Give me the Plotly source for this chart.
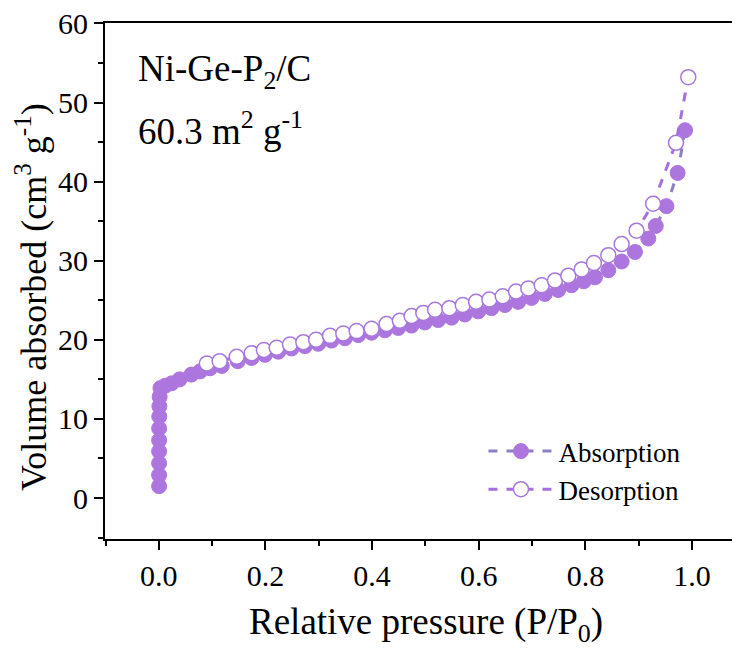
import plotly.graph_objects as go

# Absorption (filled) branch
abs_p = [0.0005, 0.0005, 0.0005, 0.0005, 0.0005, 0.0005, 0.0008, 0.001, 0.0015, 0.003,
         0.012, 0.024, 0.039, 0.061, 0.077, 0.096, 0.118, 0.148, 0.174, 0.199,
         0.224, 0.249, 0.274, 0.299, 0.324, 0.349, 0.374, 0.399, 0.424, 0.449,
         0.474, 0.499, 0.524, 0.549, 0.574, 0.599, 0.624, 0.649, 0.674, 0.699,
         0.724, 0.749, 0.774, 0.797, 0.818, 0.843, 0.868, 0.893, 0.918, 0.932,
         0.952, 0.973, 0.987]
abs_v = [1.5, 2.9, 4.4, 5.9, 7.3, 8.8, 10.3, 11.6, 12.8, 13.9,
         14.2, 14.5, 15.0, 15.6, 16.0, 16.4, 16.7, 17.3, 17.7, 18.1,
         18.5, 18.9, 19.2, 19.5, 19.9, 20.2, 20.6, 20.9, 21.2, 21.5,
         21.8, 22.2, 22.5, 22.8, 23.2, 23.6, 24.0, 24.4, 24.8, 25.3,
         25.8, 26.3, 26.9, 27.4, 27.9, 28.8, 29.9, 31.1, 32.8, 34.4,
         36.9, 41.1, 46.5]

# Desorption (open) branch
des_p = [0.090, 0.114, 0.146, 0.174, 0.197, 0.221, 0.246, 0.271, 0.295, 0.321,
         0.346, 0.371, 0.399, 0.427, 0.452, 0.474, 0.496, 0.518, 0.545, 0.570,
         0.595, 0.620, 0.645, 0.670, 0.693, 0.718, 0.743, 0.768, 0.793, 0.816,
         0.843, 0.868, 0.896, 0.927, 0.970, 0.993]
des_v = [17.0, 17.3, 17.85, 18.3, 18.7, 19.0, 19.4, 19.7, 20.0, 20.5,
         20.8, 21.1, 21.4, 22.0, 22.4, 23.0, 23.4, 23.8, 24.0, 24.4,
         24.8, 25.1, 25.5, 26.1, 26.5, 26.9, 27.5, 28.1, 28.9, 29.7,
         30.7, 32.1, 33.8, 37.2, 44.9, 53.2]

x_ticks = [0.0, 0.2, 0.4, 0.6, 0.8, 1.0]
y_ticks = [0, 10, 20, 30, 40, 50, 60]

FONT = "Times New Roman, Liberation Serif, serif"

fig = go.Figure()
fig.add_trace(go.Scatter(
    x=abs_p, y=abs_v, name="Absorption", mode="lines+markers",
    line=dict(color="#8a80c4", width=3, dash="dash"),
    marker=dict(symbol="circle", size=15, color="#ad76df",
                line=dict(color="#ad76df", width=1)),
))
fig.add_trace(go.Scatter(
    x=des_p, y=des_v, name="Desorption", mode="lines+markers",
    line=dict(color="#a66fe0", width=3, dash="dash"),
    marker=dict(symbol="circle", size=15, color="white",
                line=dict(color="#a678de", width=1.5)),
))

# page body adds an 8px offset; figure sized so the plot lands where the reference has it
fig.update_layout(
    width=732, height=640,
    margin=dict(l=97, r=0, t=15, b=109),
    paper_bgcolor="white", plot_bgcolor="white",
    font=dict(family=FONT, color="black", size=30),
    showlegend=True,
    legend=dict(x=0.596, y=0.217, xanchor="left", yanchor="top",
                bgcolor="rgba(0,0,0,0)", font=dict(size=27, family=FONT),
                tracegroupgap=0, itemwidth=65),
    annotations=[
        dict(text="Ni-Ge-P<sub>2</sub>/C", xref="paper", yref="paper",
             x=(136 - 105) / 635, y=(539 - 72) / 516, xanchor="left", yanchor="middle",
             showarrow=False, font=dict(size=37, family=FONT)),
        dict(text="60.3 m<sup>2</sup> g<sup>-1</sup>", xref="paper", yref="paper",
             x=(136 - 105) / 635, y=(539 - 128) / 516, xanchor="left", yanchor="middle",
             showarrow=False, font=dict(size=37, family=FONT)),
        dict(text="Relative pressure (P/P<sub>0</sub>)", xref="paper", yref="paper",
             x=(426 - 105) / 635, y=(539 - 624) / 516, xanchor="center", yanchor="middle",
             showarrow=False, font=dict(size=37, family=FONT, color="black")),
        dict(text="Volume absorbed (cm<sup>3</sup> g<sup>-1</sup>)", xref="paper", yref="paper",
             x=(31 - 105) / 635, y=(539 - 297) / 516, xanchor="center", yanchor="middle",
             textangle=-90, showarrow=False, font=dict(size=36, family=FONT, color="black")),
    ],
)

fig.update_xaxes(
    range=[-0.101, 1.09], tickvals=x_ticks, ticktext=[f"{v:.1f}" for v in x_ticks],
    showline=True, linecolor="black", linewidth=2, mirror=True,
    ticks="outside", ticklen=9, tickwidth=2, tickcolor="black",
    minor=dict(dtick=0.1, tick0=0, ticks="outside", ticklen=5, tickwidth=2, tickcolor="black"),
    showgrid=False, zeroline=False, automargin=False, ticklabeloverflow="allow",
    tickfont=dict(size=30, family=FONT, color="black"),
)
fig.update_yaxes(
    range=[-5.18, 60.05], tickvals=y_ticks,
    showline=True, linecolor="black", linewidth=2, mirror=False,
    ticks="outside", ticklen=9, tickwidth=2, tickcolor="black",
    minor=dict(dtick=5, tick0=0, ticks="outside", ticklen=5, tickwidth=2, tickcolor="black"),
    showgrid=False, zeroline=False, automargin=False, ticklabeloverflow="allow",
    tickfont=dict(size=30, family=FONT, color="black"),
)

fig.write_html("out.html")
